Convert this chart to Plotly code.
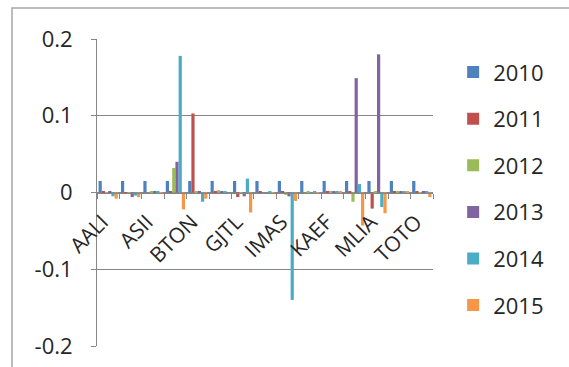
import plotly.graph_objects as go

categories = ["AALI", "ADES", "ASII", "AUTO", "BTON", "CPIN", "GJTL", "HMSP",
              "IMAS", "INDF", "KAEF", "KLBF", "MLIA", "SMGR", "TOTO"]
tick_labels = ["AALI", "", "ASII", "", "BTON", "", "GJTL", "",
               "IMAS", "", "KAEF", "", "MLIA", "", "TOTO"]
years = ["2010", "2011", "2012", "2013", "2014", "2015"]

v2010 = [0.015, 0.015, 0.015, 0.015, 0.015, 0.015, 0.015, 0.015,
         0.015, 0.015, 0.015, 0.015, 0.015, 0.015, 0.015]
v2011 = [0.001, -0.001, 0.000, 0.002, 0.103, 0.002, -0.006, 0.001,
         0.001, 0.000, 0.001, 0.001, -0.021, 0.001, 0.001]
v2012 = [-0.002, -0.002, 0.001, 0.032, 0.001, 0.003, -0.002, 0.000,
         -0.003, 0.001, 0.001, -0.012, 0.001, 0.001, -0.001]
v2013 = [0.001, -0.006, 0.001, 0.040, 0.001, 0.001, -0.005, 0.000,
         -0.005, 0.000, 0.002, 0.149, 0.180, 0.001, 0.001]
v2014 = [-0.005, -0.004, 0.002, 0.178, -0.012, 0.001, 0.018, 0.001,
         -0.140, 0.001, 0.002, 0.011, -0.019, 0.002, 0.001]
v2015 = [-0.008, -0.006, -0.002, -0.022, -0.008, 0.000, -0.026, -0.002,
         -0.011, -0.001, 0.001, -0.043, -0.027, 0.002, -0.006]

series = [v2010, v2011, v2012, v2013, v2014, v2015]
colors = ["#4F81BD", "#C0504D", "#9BBB59", "#8064A2", "#4BACC6", "#F79646"]

FONT = "Open Sans"
TXT = "#262626"
AX = "#868686"

fig = go.Figure()
for name, vals, col in zip(years, series, colors):
    fig.add_trace(go.Bar(x=categories, y=vals, name=name, legendgroup=name,
                         marker=dict(color=col, line=dict(width=0))))

fig.update_layout(
    width=569, height=367,
    margin=dict(l=97, r=136, t=39, b=21, autoexpand=False),
    paper_bgcolor="white", plot_bgcolor="white",
    barmode="group", bargap=0.14, bargroupgap=0,
    showlegend=True,
    legend=dict(x=1.06, xanchor="left", y=0.96, yanchor="top",
                font=dict(family=FONT, size=22, color=TXT),
                tracegroupgap=15, bgcolor="rgba(0,0,0,0)"),
    xaxis=dict(type="category", anchor="free", position=0.5, automargin=False,
               tickmode="array", tickvals=categories, ticktext=tick_labels,
               tickangle=-45, tickson="boundaries", ticks="outside",
               ticklen=5, tickcolor=AX, showline=True, linecolor=AX,
               linewidth=1, showgrid=False,
               ticklabelstandoff=8, ticklabelshift=-6,
               tickfont=dict(family=FONT, size=21, color=TXT)),
    yaxis=dict(range=[-0.2, 0.2], showgrid=True, automargin=False,
               gridcolor=AX, gridwidth=1, zeroline=False,
               showline=True, linecolor=AX, linewidth=1,
               ticks="outside", ticklen=5, tickcolor=AX,
               tickmode="array",
               tickvals=[-0.2, -0.1, 0, 0.1, 0.2],
               ticktext=["-0.2", "-0.1", "0", "0.1", "0.2"],
               ticklabelstandoff=14,
               tickfont=dict(family=FONT, size=22, color=TXT)),
    shapes=[dict(type="rect", xref="paper", yref="paper",
                 x0=(12 - 97) / 336, x1=2, y0=-1, y1=(346 - 8) / 307,
                 line=dict(color="#A6A6A6", width=1.5), layer="below")],
)

fig.write_html("out.html")
